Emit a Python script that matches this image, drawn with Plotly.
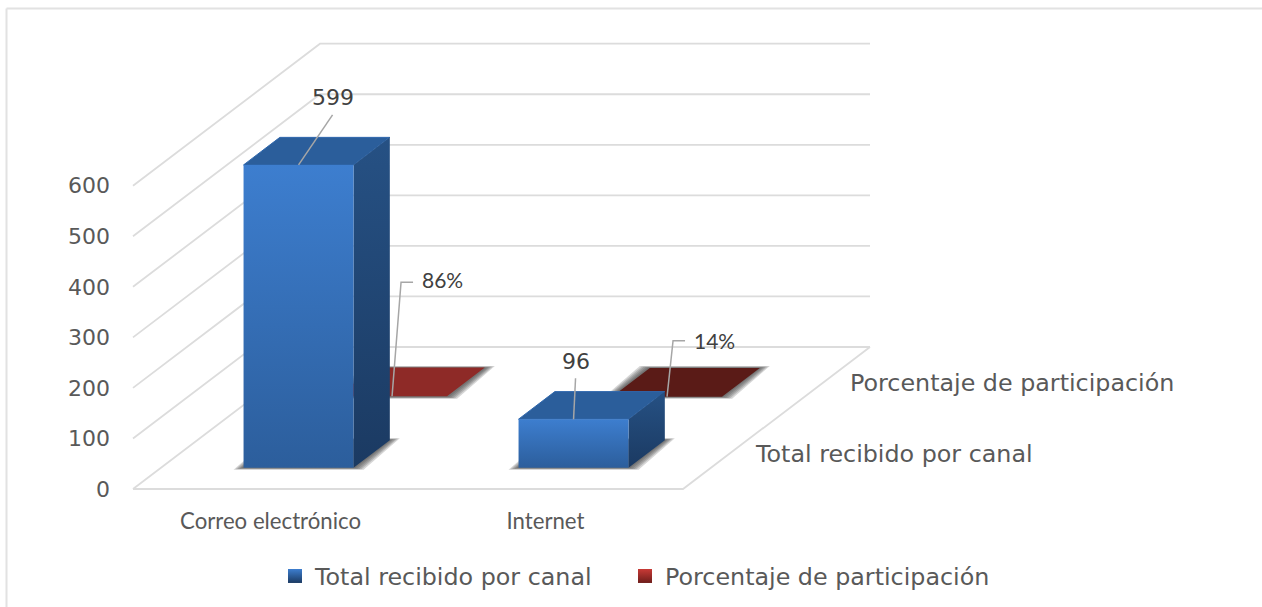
import plotly.graph_objects as go

# ---- data ----
categories = ["Correo electrónico", "Internet"]
series_names = ["Total recibido por canal", "Porcentaje de participación"]
total_values = [599, 96]
share_values = [0.86, 0.14]
share_labels = ["86%", "14%"]
tick_values = [0, 100, 200, 300, 400, 500, 600]

# ---- oblique projection of the 3D chart ----
W, H = 1262, 607
PL, PT, PR, PB = 111, 0, 0, 101      # plot area margins
FLOOR_X, FLOOR_Y = 133.0, 489.0      # front-left floor corner in px
UNIT_X = 275.0                       # px per category
UNIT_V = 0.5055                      # px per value unit
DEPTH_X, DEPTH_Y = 187.0, 142.0      # px across full depth
plot_w, plot_h = W - PL - PR, H - PT - PB
xr = [(PL - FLOOR_X) / UNIT_X, (W - PR - FLOOR_X) / UNIT_X]
yr = [(FLOOR_Y - (H - PB)) / UNIT_V, (FLOOR_Y - PT) / UNIT_V]

def paper_x(px):
    return (px - PL) / plot_w

def paper_y(py):
    return 1 - (py - PT) / plot_h

def proj(u, v, d):
    """category position, value, depth (0-1) -> data coordinates"""
    return u + d * DEPTH_X / UNIT_X, v + d * DEPTH_Y / UNIT_V

def poly(points, fill=None, grad=None, line=None):
    xs, ys = zip(*points)
    t = dict(x=list(xs) + [xs[0]], y=list(ys) + [ys[0]], mode="lines", fill="toself",
             line=line or dict(width=0), showlegend=False, hoverinfo="skip")
    if grad:
        t["fillgradient"] = dict(type="vertical",
                                 colorscale=[[0, grad[1]], [1, grad[0]]])
    else:
        t["fillcolor"] = fill
    return go.Scatter(**t)

fig = go.Figure()
GRID = dict(color="#dcdcdc", width=1.8)

# gridlines: left wall and back wall
for tv in tick_values:
    a, b, c = proj(0, tv, 0), proj(0, tv, 1), proj(2, tv, 1)
    fig.add_trace(go.Scatter(x=[a[0], b[0], c[0]], y=[a[1], b[1], c[1]], mode="lines",
                             line=GRID, showlegend=False, hoverinfo="skip"))
# floor
f = [proj(0, 0, 0), proj(2, 0, 0), proj(2, 0, 1)]
fig.add_trace(go.Scatter(x=[p[0] for p in f], y=[p[1] for p in f], mode="lines",
                         line=GRID, showlegend=False, hoverinfo="skip"))

def shadow(cu, d0, d1):
    u0, u1 = cu - 0.2, cu + 0.2
    for e in (10, 8, 6, 4, 2):
        ex = e / UNIT_X
        ey = (e * 0.2) / UNIT_V
        pts = [(proj(u0, 0, d0)[0] - ex, proj(u0, 0, d0)[1] - ey),
               (proj(u1, 0, d0)[0] + ex, proj(u1, 0, d0)[1] - ey),
               (proj(u1, 0, d1)[0] + ex, proj(u1, 0, d1)[1] + ey),
               (proj(u0, 0, d1)[0] - ex, proj(u0, 0, d1)[1] + ey)]
        fig.add_trace(poly(pts, fill="rgba(50,50,50,0.2)"))

def bar3d(cu, v, d0, d1, front, side, top, edge=None):
    u0, u1 = cu - 0.2, cu + 0.2
    fig.add_trace(poly([proj(u0, v, d0), proj(u1, v, d0), proj(u1, v, d1), proj(u0, v, d1)],
                       fill=top, line=dict(color=edge, width=1) if edge else None))
    fig.add_trace(poly([proj(u1, 0, d0), proj(u1, 0, d1), proj(u1, v, d1), proj(u1, v, d0)],
                       grad=side))
    fig.add_trace(poly([proj(u0, 0, d0), proj(u1, 0, d0), proj(u1, v, d0), proj(u0, v, d0)],
                       grad=front))

centers = [0.5, 1.5]
RED_TOPS = ["#8e2a27", "#5a1b17"]
# back row: share
for cu, v, col in zip(centers, share_values, RED_TOPS):
    shadow(cu, 0.65, 0.852)
    bar3d(cu, v, 0.65, 0.852, (col, col), (col, col), col)
# front row: total
for cu, v in zip(centers, total_values):
    shadow(cu, 0.15, 0.344)
    bar3d(cu, v, 0.15, 0.344, ("#3d7ecf", "#2c5e9c"), ("#265184", "#1b3a62"), "#2b5e9b", edge="#3068ad")

# leader lines and data labels
LEAD = dict(color="#a6a6a6", width=1.5)
annots = []
def leader(cu, v, d, offs, text, label_off, font):
    ax, ay = proj(cu, v, d)
    xs, ys = [ax], [ay]
    for ox, oy in offs:
        xs.append(ax + ox / UNIT_X)
        ys.append(ay - oy / UNIT_V)
    fig.add_trace(go.Scatter(x=xs, y=ys, mode="lines", line=LEAD, showlegend=False, hoverinfo="skip"))
    annots.append(dict(x=ax, y=ay, xref="x", yref="y", text=text, showarrow=False,
                       xshift=label_off[0], yshift=-label_off[1], font=font))

BIG = dict(family="DejaVu Sans", size=22, color="#404040")
SMALL = dict(family="Lato", size=21, color="#404040")
leader(centers[0], share_values[0], 0.65, [(9, -114), (21, -114)], share_labels[0], (50, -117), SMALL)
leader(centers[1], share_values[1], 0.65, [(6, -56), (18, -56)], share_labels[1], (47, -56), SMALL)
leader(centers[0], total_values[0], 0.15, [(34, -50)], str(total_values[0]), (34, -67), BIG)
leader(centers[1], total_values[1], 0.15, [(2, -41)], str(total_values[1]), (2, -58), BIG)

# depth-axis labels
LBL = dict(family="DejaVu Sans", size=23.8, color="#595959")
for name, px, py in zip(series_names, (753, 848), (454, 383)):
    annots.append(dict(x=paper_x(px), y=paper_y(py), xref="paper", yref="paper", text=name, showarrow=False,
                       xanchor="left", yanchor="middle", font=LBL))

# legend entries, one legend per series so each can sit where the reference has it
for name, c, lg in zip(series_names, (("#3d7ecf", "#1b3a62"), ("#c83a36", "#6e1d1a")), ("legend", "legend2")):
    fig.add_trace(go.Scatter(x=[None], y=[None], mode="markers", name=name, legend=lg, showlegend=True,
                             marker=dict(symbol="square", size=14, color=c[0],
                                         gradient=dict(type="vertical", color=c[1]))))

# outer frame
FRAME = dict(color="#e2e2e2", width=2)
shapes = [dict(type="line", xref="paper", yref="paper", x0=paper_x(6.5), x1=paper_x(W), y0=paper_y(8.5), y1=paper_y(8.5), line=FRAME),
          dict(type="line", xref="paper", yref="paper", x0=paper_x(6.5), x1=paper_x(6.5), y0=paper_y(8.5), y1=paper_y(H), line=FRAME)]

LEGEND_FONT = dict(family="DejaVu Sans", size=23.8, color="#595959")
fig.update_layout(
    width=W, height=H, margin=dict(l=PL, r=PR, t=PT, b=PB),
    paper_bgcolor="white", plot_bgcolor="rgba(0,0,0,0)",
    xaxis=dict(range=xr, tickmode="array", tickvals=centers, ticktext=categories,
               showgrid=False, zeroline=False, showline=False, ticks="",
               tickfont=dict(family="Lato", size=22.2, color="#595959")),
    yaxis=dict(range=yr, tickmode="array", tickvals=tick_values,
               showgrid=False, zeroline=False, showline=False, ticks="",
               tickfont=dict(family="DejaVu Sans", size=22, color="#595959")),
    legend=dict(orientation="h", x=paper_x(275), y=paper_y(576), xanchor="left", yanchor="middle",
                font=LEGEND_FONT, itemwidth=30, bgcolor="rgba(0,0,0,0)"),
    legend2=dict(orientation="h", x=paper_x(625), y=paper_y(576), xanchor="left", yanchor="middle",
                 font=LEGEND_FONT, itemwidth=30, bgcolor="rgba(0,0,0,0)"),
    annotations=annots, shapes=shapes,
)
fig.write_html("out.html", config=dict(displayModeBar=False),
               post_script="document.body.style.margin='0';document.documentElement.style.overflow='hidden';")
